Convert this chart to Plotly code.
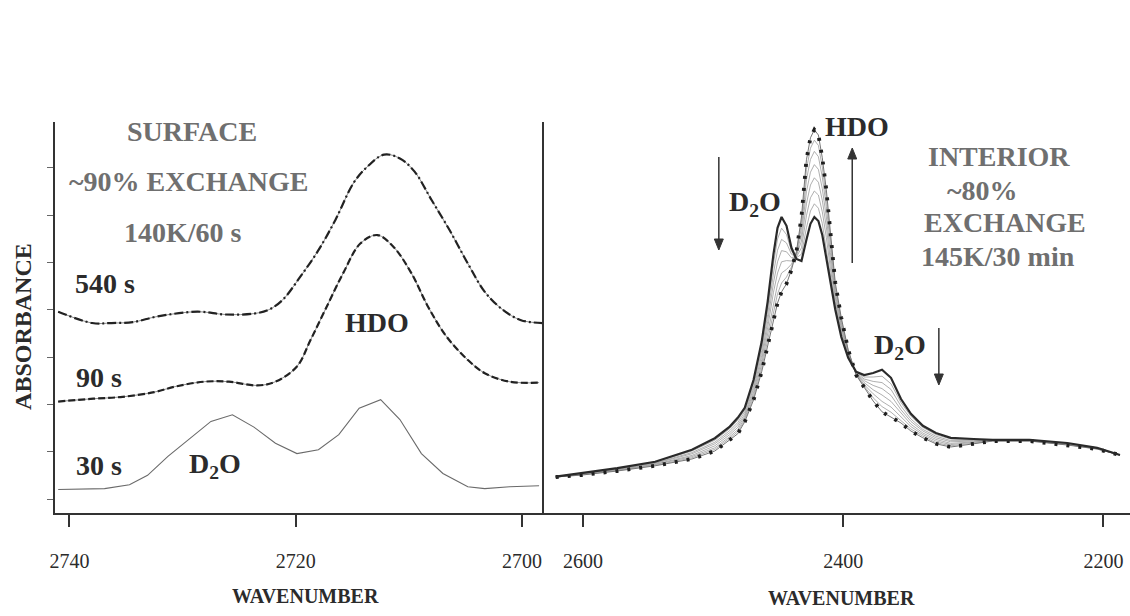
import plotly.graph_objects as go

# ---------------- Left panel: SURFACE (wavenumber, absorbance) ----------------
surf_wn_540 = [2741.0, 2738.0, 2736.3, 2734.4, 2732.2, 2728.7, 2726.2, 2723.7, 2722.4, 2721.2,
               2719.6, 2718.0, 2716.5, 2714.9, 2713.7, 2712.2, 2710.8, 2709.5, 2708.0, 2706.4,
               2704.8, 2703.3, 2701.7, 2700.1, 2698.2]
surf_abs_540 = [0.198, 0.186, 0.186, 0.187, 0.193, 0.198, 0.195, 0.196, 0.200, 0.210,
                0.235, 0.263, 0.295, 0.334, 0.351, 0.364, 0.360, 0.346, 0.316, 0.284,
                0.249, 0.219, 0.200, 0.189, 0.186]

surf_wn_90 = [2741.0, 2737.9, 2735.3, 2732.5, 2730.6, 2728.1, 2725.9, 2723.4, 2721.8, 2719.9,
              2718.7, 2717.4, 2715.8, 2714.3, 2712.8, 2711.4, 2709.8, 2708.3, 2706.7, 2704.8,
              2703.3, 2701.1, 2698.5]
surf_abs_90 = [0.103, 0.106, 0.108, 0.113, 0.119, 0.124, 0.124, 0.120, 0.124, 0.140,
               0.168, 0.200, 0.239, 0.270, 0.279, 0.267, 0.239, 0.203, 0.172, 0.147,
               0.133, 0.124, 0.123]

surf_wn_30 = [2741.0, 2736.9, 2734.7, 2733.1, 2731.3, 2729.4, 2727.5, 2725.6, 2723.7, 2721.8,
              2719.9, 2718.0, 2716.2, 2714.4, 2712.5, 2710.8, 2708.9, 2707.0, 2704.8, 2703.3,
              2701.1, 2698.5]
surf_abs_30 = [0.010, 0.011, 0.015, 0.025, 0.045, 0.064, 0.082, 0.089, 0.076, 0.059,
               0.048, 0.052, 0.068, 0.096, 0.105, 0.084, 0.048, 0.027, 0.013, 0.011,
               0.013, 0.014]

surf_ticks_x = [2740, 2720, 2700]
surf_ticks_y = [0, 0.05, 0.10, 0.15, 0.20, 0.25, 0.30, 0.35]

# ---------------- Right panel: INTERIOR ----------------
int_wn = [2621.0, 2600.5, 2573.7, 2544.6, 2516.3, 2498.7, 2487.2, 2481.1, 2475.7, 2468.9,
          2462.7, 2458.1, 2453.6, 2450.5, 2447.4, 2443.6, 2439.8, 2436.0, 2432.1, 2428.3,
          2425.2, 2422.2, 2419.1, 2416.1, 2413.0, 2409.9, 2406.1, 2401.5, 2396.2, 2390.1,
          2383.9, 2377.0, 2370.2, 2363.3, 2355.6, 2348.0, 2338.8, 2328.8, 2317.4, 2299.8,
          2285.2, 2256.9, 2227.8, 2204.9, 2187.3]

# first spectrum (thick) and final spectrum (dotted)
int_first = [0.091, 0.100, 0.112, 0.128, 0.158, 0.187, 0.216, 0.238, 0.263, 0.333,
             0.428, 0.528, 0.648, 0.713, 0.740, 0.718, 0.663, 0.635, 0.630, 0.683,
             0.723, 0.740, 0.730, 0.695, 0.638, 0.573, 0.508, 0.440, 0.388, 0.353,
             0.345, 0.350, 0.358, 0.338, 0.285, 0.248, 0.218, 0.200, 0.188, 0.185,
             0.183, 0.183, 0.175, 0.163, 0.145]
int_final = [0.090, 0.095, 0.105, 0.118, 0.135, 0.155, 0.183, 0.198, 0.228, 0.283,
             0.353, 0.420, 0.488, 0.525, 0.553, 0.573, 0.608, 0.653, 0.740, 0.883,
             0.938, 0.958, 0.945, 0.888, 0.808, 0.703, 0.575, 0.488, 0.408, 0.345,
             0.313, 0.280, 0.253, 0.240, 0.225, 0.205, 0.188, 0.173, 0.165, 0.173,
             0.180, 0.180, 0.170, 0.160, 0.145]

# intermediate spectra (thin grey)
int_mid_1 = [0.091, 0.099, 0.111, 0.127, 0.155, 0.182, 0.211, 0.232, 0.258, 0.326,
             0.417, 0.512, 0.624, 0.685, 0.712, 0.696, 0.655, 0.638, 0.647, 0.713,
             0.755, 0.773, 0.762, 0.724, 0.664, 0.593, 0.518, 0.447, 0.391, 0.352,
             0.340, 0.340, 0.342, 0.323, 0.276, 0.242, 0.214, 0.196, 0.185, 0.183,
             0.183, 0.183, 0.174, 0.163, 0.145]
int_mid_2 = [0.091, 0.099, 0.110, 0.125, 0.151, 0.177, 0.206, 0.226, 0.253, 0.318,
             0.406, 0.496, 0.600, 0.657, 0.684, 0.675, 0.647, 0.640, 0.663, 0.743,
             0.788, 0.805, 0.795, 0.753, 0.689, 0.612, 0.528, 0.454, 0.394, 0.351,
             0.335, 0.329, 0.326, 0.309, 0.267, 0.235, 0.209, 0.192, 0.181, 0.181,
             0.182, 0.182, 0.174, 0.162, 0.145]
int_mid_3 = [0.090, 0.098, 0.109, 0.124, 0.148, 0.173, 0.201, 0.220, 0.247, 0.311,
             0.394, 0.479, 0.576, 0.628, 0.656, 0.653, 0.638, 0.643, 0.680, 0.773,
             0.820, 0.838, 0.827, 0.782, 0.715, 0.632, 0.538, 0.462, 0.397, 0.349,
             0.331, 0.319, 0.311, 0.294, 0.258, 0.229, 0.205, 0.188, 0.178, 0.180,
             0.182, 0.182, 0.173, 0.162, 0.145]
int_mid_4 = [0.090, 0.097, 0.108, 0.122, 0.144, 0.168, 0.196, 0.214, 0.242, 0.303,
             0.383, 0.463, 0.552, 0.600, 0.628, 0.631, 0.630, 0.646, 0.696, 0.803,
             0.852, 0.871, 0.859, 0.811, 0.740, 0.651, 0.548, 0.469, 0.400, 0.348,
             0.326, 0.308, 0.295, 0.279, 0.249, 0.222, 0.200, 0.184, 0.174, 0.178,
             0.181, 0.181, 0.172, 0.161, 0.145]
int_mid_5 = [0.090, 0.096, 0.107, 0.121, 0.141, 0.163, 0.191, 0.208, 0.237, 0.296,
             0.372, 0.447, 0.528, 0.572, 0.600, 0.609, 0.622, 0.649, 0.713, 0.833,
             0.884, 0.904, 0.891, 0.840, 0.766, 0.671, 0.558, 0.476, 0.403, 0.347,
             0.321, 0.298, 0.279, 0.265, 0.240, 0.216, 0.196, 0.180, 0.171, 0.176,
             0.181, 0.181, 0.171, 0.161, 0.145]
int_mid_6 = [0.090, 0.096, 0.106, 0.119, 0.138, 0.159, 0.187, 0.203, 0.232, 0.289,
             0.362, 0.433, 0.507, 0.548, 0.575, 0.590, 0.615, 0.651, 0.727, 0.859,
             0.912, 0.932, 0.919, 0.865, 0.788, 0.687, 0.567, 0.482, 0.406, 0.346,
             0.317, 0.288, 0.266, 0.252, 0.232, 0.210, 0.192, 0.176, 0.168, 0.174,
             0.180, 0.180, 0.171, 0.160, 0.145]
int_mids = [int_mid_1, int_mid_2, int_mid_3, int_mid_4, int_mid_5, int_mid_6]

int_ticks_x = [2600, 2400, 2200]

# ---------------- figure ----------------
W, H = 1130, 616
SERIF = "Liberation Serif"
DARK = "#2b2b2b"
GREY = "#6f6f6f"
TXT = 28


def px(x):
    return x / W


def py(y):
    return 1 - y / H


fig = go.Figure()

# left panel traces
fig.add_trace(go.Scatter(x=surf_wn_30, y=surf_abs_30, mode="lines",
                         line=dict(color="#6a6a6a", width=1.1), xaxis="x", yaxis="y"))
for wn, ab, dash in [(surf_wn_90, surf_abs_90, "7px,3px"),
                     (surf_wn_540, surf_abs_540, "9px,3px,2px,3px")]:
    fig.add_trace(go.Scatter(x=wn, y=ab, mode="lines", line_shape="spline",
                             line=dict(color="#8a8a8a", width=1), xaxis="x", yaxis="y"))
    fig.add_trace(go.Scatter(x=wn, y=ab, mode="lines", line_shape="spline",
                             line=dict(color="#222", width=2.2, dash=dash), xaxis="x", yaxis="y"))

# right panel traces
for mid in int_mids:
    fig.add_trace(go.Scatter(x=int_wn, y=mid, mode="lines",
                             line=dict(color="#9a9a9a", width=0.8), xaxis="x2", yaxis="y2"))
fig.add_trace(go.Scatter(x=int_wn, y=int_final, mode="lines",
                         line=dict(color="#777", width=1), xaxis="x2", yaxis="y2"))
fig.add_trace(go.Scatter(x=int_wn, y=int_final, mode="lines",
                         line=dict(color="#1e1e1e", width=3.8, dash="3px,9px"), xaxis="x2", yaxis="y2"))
fig.add_trace(go.Scatter(x=int_wn, y=int_first, mode="lines",
                         line=dict(color="#2a2a2a", width=2.2), xaxis="x2", yaxis="y2"))

ydom = [py(513), py(122)]
axis_common = dict(showgrid=False, zeroline=False, showline=True, linecolor="#333",
                   linewidth=1.5, fixedrange=True)
tickfont = dict(family=SERIF, size=20, color=DARK)

fig.update_layout(
    width=W, height=H, margin=dict(l=0, r=0, t=0, b=0),
    paper_bgcolor="white", plot_bgcolor="rgba(0,0,0,0)", showlegend=False,
    hovermode=False,
    xaxis=dict(domain=[px(50), px(541)], range=[2741.3, 2698.1], anchor="y",
               tickvals=surf_ticks_x, ticks="outside", ticklen=12, tickwidth=1.5,
               tickcolor="#333", ticklabelstandoff=17, tickfont=tickfont, **axis_common),
    yaxis=dict(domain=ydom, range=[-0.0148, 0.3985], anchor="x",
               tickvals=surf_ticks_y, ticks="outside", ticklen=6, tickwidth=1,
               tickcolor="#666", showticklabels=False, **axis_common),
    xaxis2=dict(domain=[px(541), 1.0], range=[2630.3, 2179.6], anchor="y2",
                tickvals=int_ticks_x, ticks="outside", ticklen=12, tickwidth=1.5,
                tickcolor="#333", ticklabelstandoff=17, tickfont=tickfont, **axis_common),
    yaxis2=dict(domain=ydom, range=[0, 0.9775], anchor="x2", ticks="",
                showticklabels=False, **axis_common),
)


def label(text, x, y, color, size, angle=0):
    fig.add_annotation(text=text, x=px(x), y=py(y), xref="paper", yref="paper",
                       showarrow=False, textangle=angle, xanchor="center", yanchor="middle",
                       font=dict(family=SERIF, size=size, color=color))


# left texts
label("<b>SURFACE</b>", 188, 131, GREY, TXT)
label("<b>~90% EXCHANGE</b>", 184, 182, GREY, TXT)
label("<b>140K/60 s</b>", 179, 232, GREY, TXT)
label("<b>540 s</b>", 100, 283, DARK, TXT)
label("<b>90 s</b>", 94, 377, DARK, TXT)
label("<b>30 s</b>", 94, 466, DARK, TXT)
label("<b>HDO</b>", 374, 322, DARK, TXT)
label("<b>D<sub>2</sub>O</b>", 211, 466, DARK, TXT)
label("<b>ABSORBANCE</b>", 18, 326, DARK, 24, angle=-90)
label("<b>WAVENUMBER</b>", 302, 596, DARK, 20)
# right texts
label("<b>HDO</b>", 856, 126, DARK, TXT)
label("<b>D<sub>2</sub>O</b>", 753, 203, DARK, TXT)
label("<b>D<sub>2</sub>O</b>", 899, 346, DARK, TXT)
label("<b>INTERIOR</b>", 998, 156, GREY, TXT)
label("<b>~80%</b>", 982, 190, GREY, TXT)
label("<b>EXCHANGE</b>", 1004, 222, GREY, TXT)
label("<b>145K/30 min</b>", 997, 257, GREY, TXT)
label("<b>WAVENUMBER</b>", 840, 598, DARK, 20)

# arrows drawn as shapes (shaft + filled head)
HEAD_L, HEAD_W = 11, 4.5
for (x, ytail, yhead) in [(717, 157, 250), (851, 263, 148), (938, 328, 385)]:
    d = 1 if yhead > ytail else -1
    ybase = yhead - d * HEAD_L
    fig.add_shape(type="line", xref="paper", yref="paper",
                  x0=px(x), x1=px(x), y0=py(ytail), y1=py(ybase),
                  line=dict(color="#333", width=1.5))
    path = "M {a},{b} L {c},{e} L {f},{e} Z".format(
        a=px(x), b=py(yhead), c=px(x - HEAD_W), e=py(ybase), f=px(x + HEAD_W))
    fig.add_shape(type="path", xref="paper", yref="paper", path=path,
                  fillcolor="#333", line=dict(color="#333", width=1))

fig.write_html("out.html", config={"displayModeBar": False},
               post_script="document.body.style.margin='0';document.body.style.padding='0';")
